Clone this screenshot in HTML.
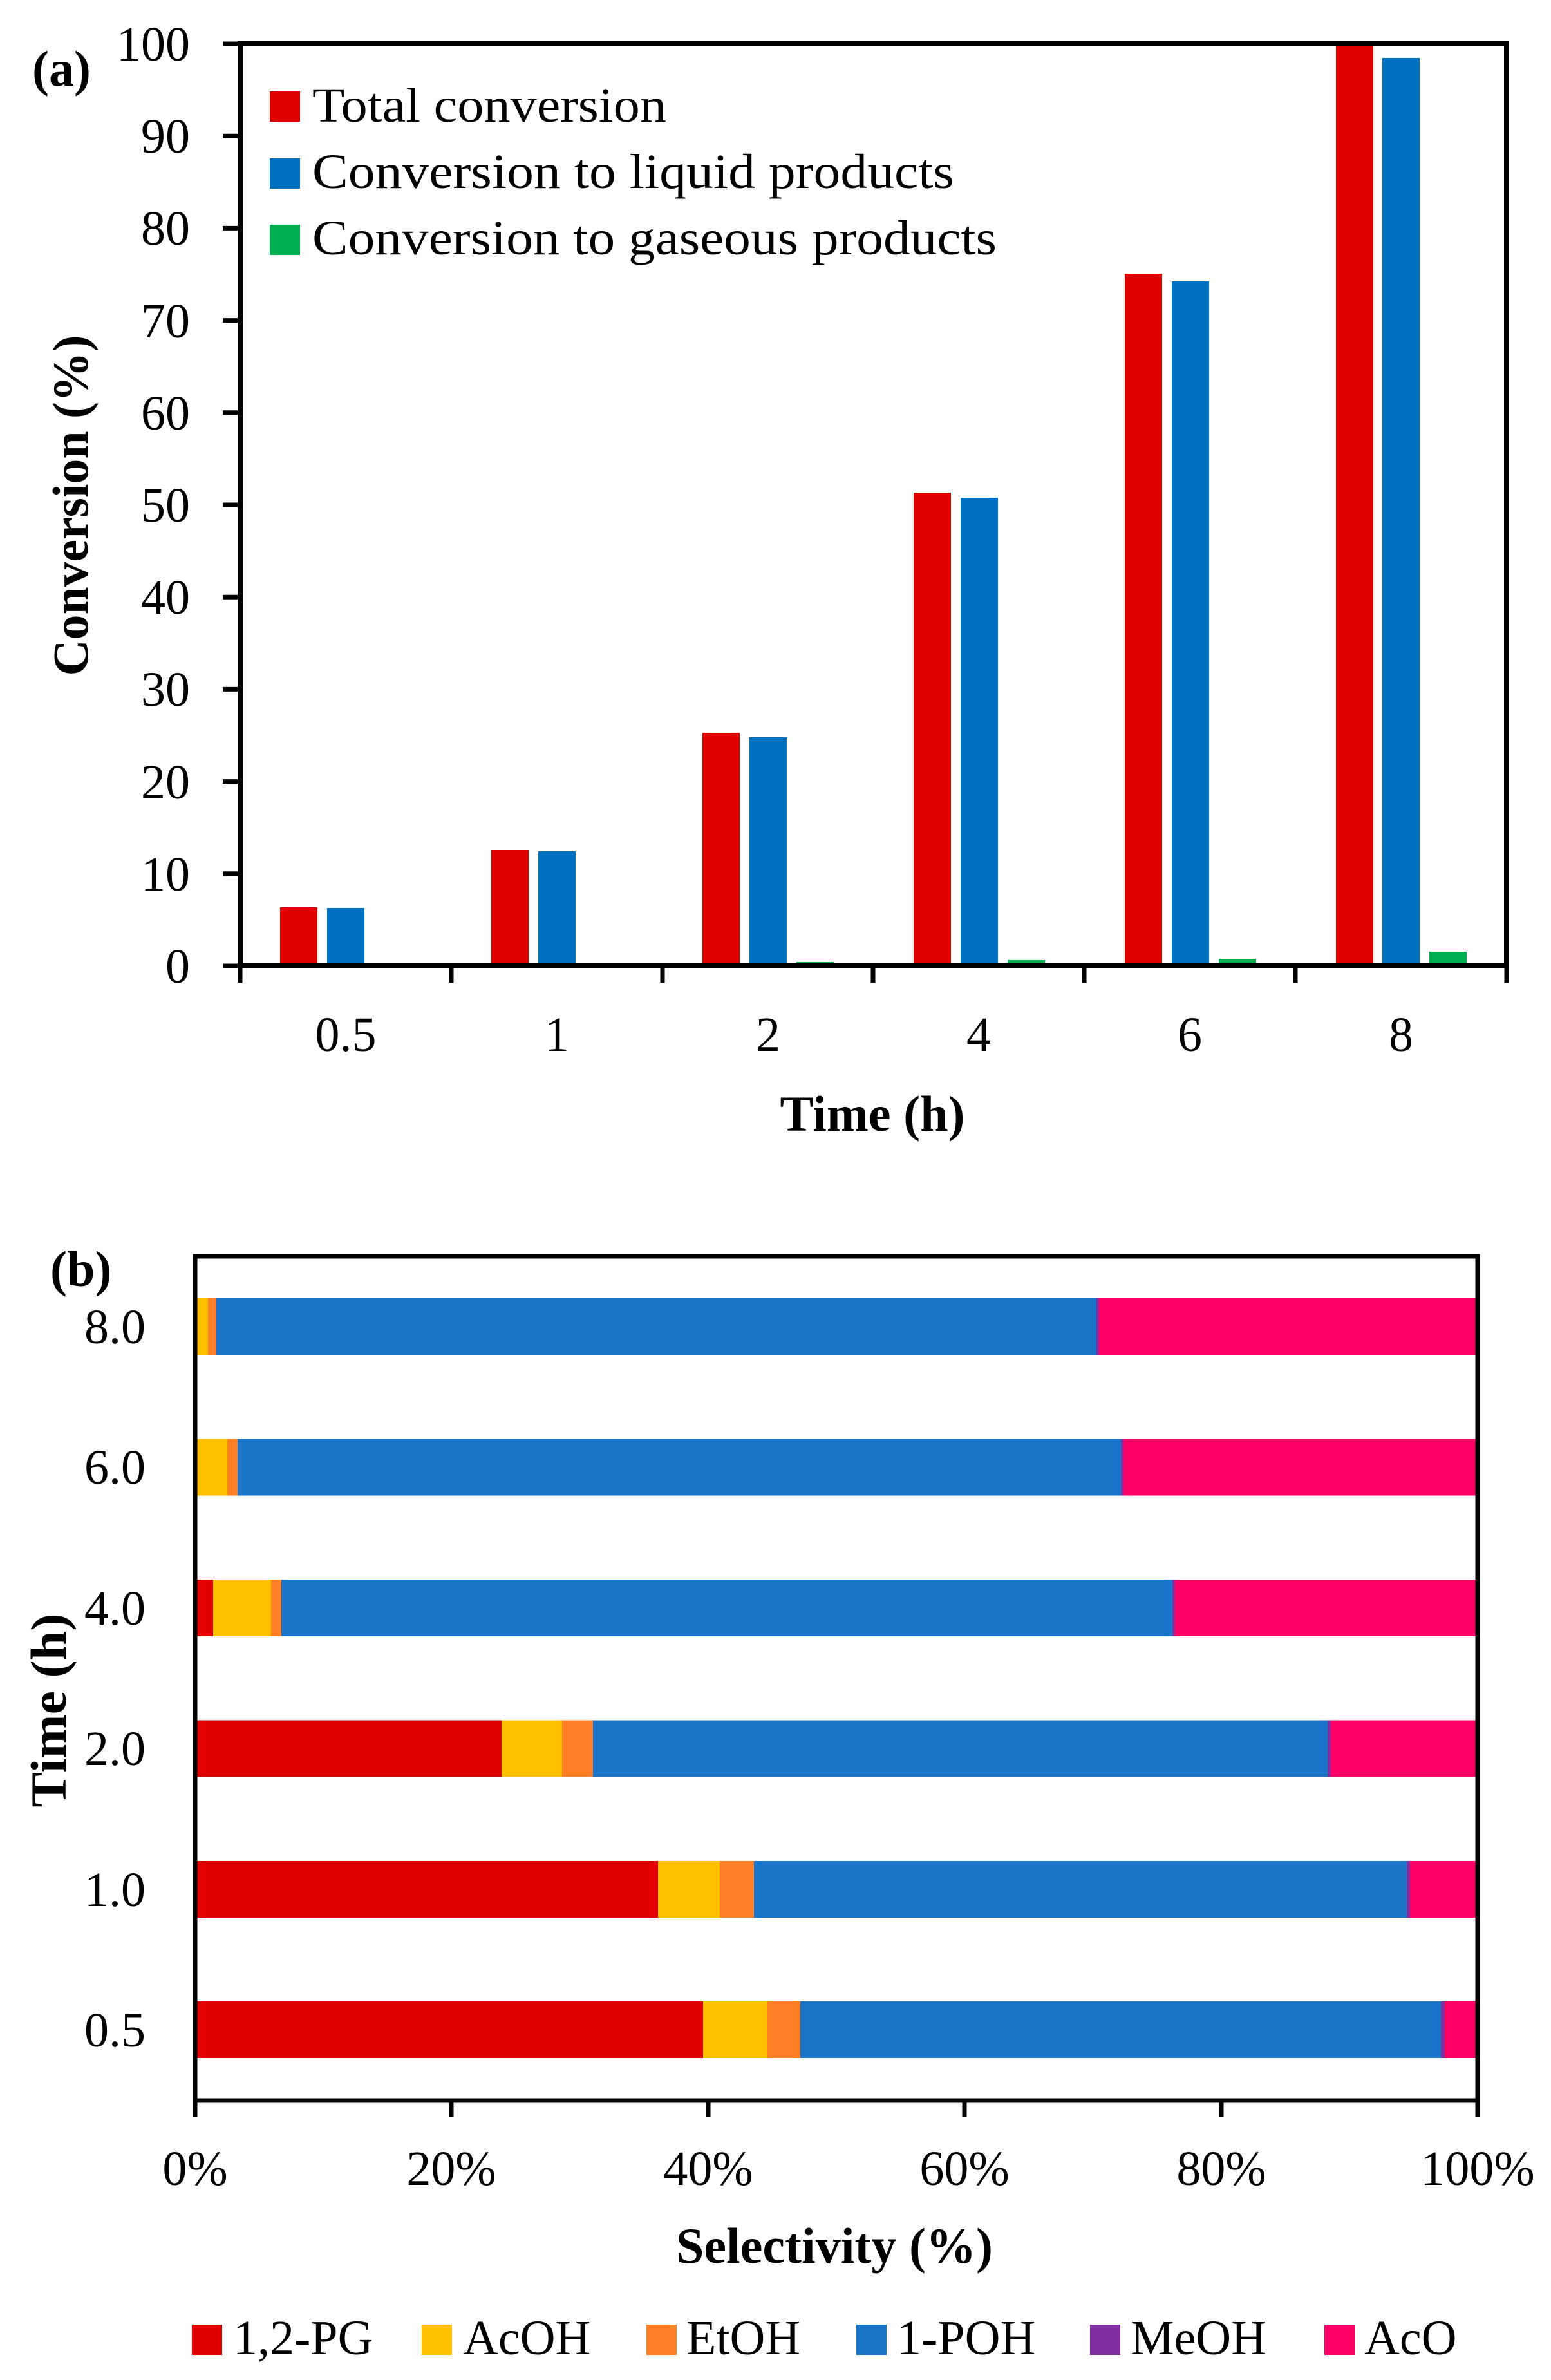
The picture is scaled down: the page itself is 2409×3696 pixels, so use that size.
<!DOCTYPE html>
<html><head><meta charset="utf-8"><style>
html,body{margin:0;padding:0;background:#fff}
svg{display:block}
text{font-family:"Liberation Serif",serif;fill:#000}
.t{font-size:76px}
.b{font-size:78px;font-weight:bold}
</style></head><body>
<svg width="2409" height="3696" viewBox="0 0 2409 3696" xmlns="http://www.w3.org/2000/svg">
<rect width="2409" height="3696" fill="#fff"/>
<g id="a">
<g>
<rect x="435" y="1409" width="58" height="91" fill="#E00000"/>
<rect x="508" y="1410" width="58" height="90" fill="#0070C0"/>
<rect x="763" y="1320" width="58" height="180" fill="#E00000"/>
<rect x="836" y="1322" width="58" height="178" fill="#0070C0"/>
<rect x="1091" y="1138" width="58" height="362" fill="#E00000"/>
<rect x="1164" y="1145" width="58" height="355" fill="#0070C0"/>
<rect x="1237" y="1494" width="58" height="6" fill="#00B050"/>
<rect x="1419" y="765" width="58" height="735" fill="#E00000"/>
<rect x="1492" y="773" width="58" height="727" fill="#0070C0"/>
<rect x="1565" y="1491" width="58" height="9" fill="#00B050"/>
<rect x="1747" y="425" width="58" height="1075" fill="#E00000"/>
<rect x="1820" y="437" width="58" height="1063" fill="#0070C0"/>
<rect x="1893" y="1489" width="58" height="11" fill="#00B050"/>
<rect x="2075" y="68" width="58" height="1432" fill="#E00000"/>
<rect x="2147" y="90" width="58" height="1410" fill="#0070C0"/>
<rect x="2220" y="1478" width="58" height="22" fill="#00B050"/>
</g>
<rect x="373" y="68" width="1967" height="1432" fill="none" stroke="#000" stroke-width="8"/>
<g stroke="#000" stroke-width="7">
<line x1="346" y1="1500" x2="373" y2="1500"/>
<line x1="346" y1="1356.8" x2="373" y2="1356.8"/>
<line x1="346" y1="1213.6" x2="373" y2="1213.6"/>
<line x1="346" y1="1070.4" x2="373" y2="1070.4"/>
<line x1="346" y1="927.2" x2="373" y2="927.2"/>
<line x1="346" y1="784" x2="373" y2="784"/>
<line x1="346" y1="640.8" x2="373" y2="640.8"/>
<line x1="346" y1="497.6" x2="373" y2="497.6"/>
<line x1="346" y1="354.4" x2="373" y2="354.4"/>
<line x1="346" y1="211.2" x2="373" y2="211.2"/>
<line x1="346" y1="68" x2="373" y2="68"/>
<line x1="373" y1="1500" x2="373" y2="1526"/>
<line x1="701" y1="1500" x2="701" y2="1526"/>
<line x1="1029" y1="1500" x2="1029" y2="1526"/>
<line x1="1356" y1="1500" x2="1356" y2="1526"/>
<line x1="1684" y1="1500" x2="1684" y2="1526"/>
<line x1="2012" y1="1500" x2="2012" y2="1526"/>
<line x1="2340" y1="1500" x2="2340" y2="1526"/>
</g>
<g class="t" text-anchor="end">
<text x="295" y="1526">0</text>
<text x="295" y="1383">10</text>
<text x="295" y="1240">20</text>
<text x="295" y="1096">30</text>
<text x="295" y="953">40</text>
<text x="295" y="810">50</text>
<text x="295" y="667">60</text>
<text x="295" y="524">70</text>
<text x="295" y="380">80</text>
<text x="295" y="237">90</text>
<text x="295" y="94">100</text>
</g>
<g class="t" text-anchor="middle">
<text x="537" y="1632">0.5</text>
<text x="865" y="1632">1</text>
<text x="1193" y="1632">2</text>
<text x="1520" y="1632">4</text>
<text x="1848" y="1632">6</text>
<text x="2176" y="1632">8</text>
</g>
<text class="b" x="1355" y="1756" text-anchor="middle" textLength="287" lengthAdjust="spacingAndGlyphs">Time (h)</text>
<text class="b" transform="translate(136,785) rotate(-90)" text-anchor="middle" textLength="529" lengthAdjust="spacingAndGlyphs">Conversion (%)</text>
<text class="b" x="50" y="133">(a)</text>
<rect x="419" y="142" width="47" height="47" fill="#E00000"/>
<text class="t" x="485" y="189" textLength="550" lengthAdjust="spacingAndGlyphs">Total conversion</text>
<rect x="419" y="246" width="47" height="47" fill="#0070C0"/>
<text class="t" x="485" y="292" textLength="997" lengthAdjust="spacingAndGlyphs">Conversion to liquid products</text>
<rect x="419" y="349" width="47" height="47" fill="#00B050"/>
<text class="t" x="485" y="395" textLength="1063" lengthAdjust="spacingAndGlyphs">Conversion to gaseous products</text>
</g>

<g id="b">
<g transform="translate(0,2016)">
<rect x="303" y="0" width="20" height="88" fill="#FFC000"/>
<rect x="323" y="0" width="13" height="88" fill="#FF7F27"/>
<rect x="336" y="0" width="1367" height="88" fill="#1A75C9"/>
<rect x="1703" y="0" width="4" height="88" fill="#7F2FA0"/>
<rect x="1707" y="0" width="588" height="88" fill="#FF0066"/>
</g>
<g transform="translate(0,2234.5)">
<rect x="303" y="0" width="50" height="88" fill="#FFC000"/>
<rect x="353" y="0" width="16" height="88" fill="#FF7F27"/>
<rect x="369" y="0" width="1372" height="88" fill="#1A75C9"/>
<rect x="1741" y="0" width="4" height="88" fill="#7F2FA0"/>
<rect x="1745" y="0" width="550" height="88" fill="#FF0066"/>
</g>
<g transform="translate(0,2453)">
<rect x="303" y="0" width="28" height="88" fill="#E00000"/>
<rect x="331" y="0" width="90" height="88" fill="#FFC000"/>
<rect x="421" y="0" width="16" height="88" fill="#FF7F27"/>
<rect x="437" y="0" width="1384" height="88" fill="#1A75C9"/>
<rect x="1821" y="0" width="4" height="88" fill="#7F2FA0"/>
<rect x="1825" y="0" width="470" height="88" fill="#FF0066"/>
</g>
<g transform="translate(0,2671.5)">
<rect x="303" y="0" width="476" height="88" fill="#E00000"/>
<rect x="779" y="0" width="94" height="88" fill="#FFC000"/>
<rect x="873" y="0" width="48" height="88" fill="#FF7F27"/>
<rect x="921" y="0" width="1141" height="88" fill="#1A75C9"/>
<rect x="2062" y="0" width="5" height="88" fill="#7F2FA0"/>
<rect x="2067" y="0" width="228" height="88" fill="#FF0066"/>
</g>
<g transform="translate(0,2890)">
<rect x="303" y="0" width="719" height="88" fill="#E00000"/>
<rect x="1022" y="0" width="96" height="88" fill="#FFC000"/>
<rect x="1118" y="0" width="53" height="88" fill="#FF7F27"/>
<rect x="1171" y="0" width="1014" height="88" fill="#1A75C9"/>
<rect x="2185" y="0" width="5" height="88" fill="#7F2FA0"/>
<rect x="2190" y="0" width="105" height="88" fill="#FF0066"/>
</g>
<g transform="translate(0,3108)">
<rect x="303" y="0" width="789" height="88" fill="#E00000"/>
<rect x="1092" y="0" width="100" height="88" fill="#FFC000"/>
<rect x="1192" y="0" width="51" height="88" fill="#FF7F27"/>
<rect x="1243" y="0" width="995" height="88" fill="#1A75C9"/>
<rect x="2238" y="0" width="6" height="88" fill="#7F2FA0"/>
<rect x="2244" y="0" width="51" height="88" fill="#FF0066"/>
</g>
<rect x="303" y="1951" width="1992" height="1311" fill="none" stroke="#000" stroke-width="7"/>
<g stroke="#000" stroke-width="7">
<line x1="303" y1="3262" x2="303" y2="3288"/>
<line x1="701" y1="3262" x2="701" y2="3288"/>
<line x1="1100" y1="3262" x2="1100" y2="3288"/>
<line x1="1498" y1="3262" x2="1498" y2="3288"/>
<line x1="1897" y1="3262" x2="1897" y2="3288"/>
<line x1="2295" y1="3262" x2="2295" y2="3288"/>
</g>
<g class="t" text-anchor="end">
<text x="226" y="2086">8.0</text>
<text x="226" y="2304">6.0</text>
<text x="226" y="2523">4.0</text>
<text x="226" y="2741">2.0</text>
<text x="226" y="2960">1.0</text>
<text x="226" y="3178">0.5</text>
</g>
<g class="t" text-anchor="middle">
<text x="303" y="3393">0%</text>
<text x="701" y="3393">20%</text>
<text x="1100" y="3393">40%</text>
<text x="1498" y="3393">60%</text>
<text x="1897" y="3393">80%</text>
<text x="2295" y="3393">100%</text>
</g>
<text class="b" x="1296" y="3514" text-anchor="middle" textLength="492" lengthAdjust="spacingAndGlyphs">Selectivity (%)</text>
<text class="b" transform="translate(102,2656) rotate(-90)" text-anchor="middle" textLength="301" lengthAdjust="spacingAndGlyphs">Time (h)</text>
<text class="b" x="78" y="1997">(b)</text>
<rect x="298" y="3610" width="47" height="47" fill="#E00000"/>
<text class="t" x="362" y="3656">1,2-PG</text>
<rect x="655" y="3610" width="47" height="47" fill="#FFC000"/>
<text class="t" x="719" y="3656">AcOH</text>
<rect x="1004" y="3610" width="47" height="47" fill="#FF7F27"/>
<text class="t" x="1066" y="3656">EtOH</text>
<rect x="1330" y="3610" width="47" height="47" fill="#1A75C9"/>
<text class="t" x="1393" y="3656">1-POH</text>
<rect x="1693" y="3610" width="47" height="47" fill="#7F2FA0"/>
<text class="t" x="1756" y="3656">MeOH</text>
<rect x="2057" y="3610" width="47" height="47" fill="#FF0066"/>
<text class="t" x="2119" y="3656">AcO</text>
</g>
</svg>
</body></html>
